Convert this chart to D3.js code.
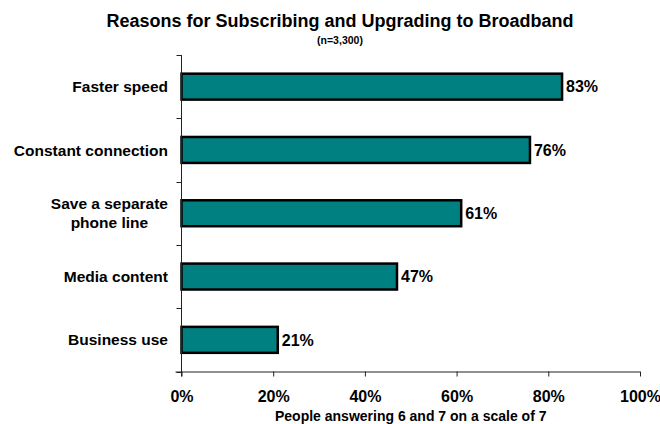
<!DOCTYPE html>
<html>
<head>
<meta charset="utf-8">
<script src="https://cdn.jsdelivr.net/npm/d3@7"></script>
<style>
  html, body { margin: 0; padding: 0; background: #fff; }
  svg { display: block; font-family: "Liberation Sans", Arial, sans-serif; font-weight: bold; }
</style>
</head>
<body>
<svg id="chart" width="660" height="424"></svg>
<script>
// Survey results: share of respondents rating each reason 6 or 7 (out of 7)
const categories = ["Faster speed", "Constant connection", "Save a separate\nphone line", "Media content", "Business use"];
const values = [83, 76, 61, 47, 21];
const tickValues = [0, 20, 40, 60, 80, 100];

const titleText = "Reasons for Subscribing and Upgrading to Broadband";
const subtitleText = "(n=3,300)";
const xAxisTitle = "People answering 6 and 7 on a scale of 7";

const svg = d3.select("#chart");
const plot = { left: 181.5, right: 640, top: 55, bottom: 371.5 };

const x = d3.scaleLinear().domain([0, 100]).range([plot.left, plot.right]);
const y = d3.scaleBand().domain(categories).range([plot.top, plot.bottom])
  .paddingInner(0.59).paddingOuter(0.295);

// Title block
svg.append("text").attr("x", 340).attr("y", 27).attr("text-anchor", "middle")
  .style("font-size", "18px").text(titleText);
svg.append("text").attr("x", 340).attr("y", 44).attr("text-anchor", "middle")
  .style("font-size", "10.5px").text(subtitleText);

// Bars
svg.append("g").selectAll("rect").data(categories).join("rect")
  .attr("x", x(0))
  .attr("y", d => y(d))
  .attr("width", (d, i) => x(values[i]) - x(0))
  .attr("height", y.bandwidth())
  .attr("fill", "#008080")
  .attr("stroke", "#000")
  .attr("stroke-width", 2.5);

// Value labels at bar ends
svg.append("g").selectAll("text").data(categories).join("text")
  .attr("x", (d, i) => x(values[i]) + 4)
  .attr("y", d => y(d) + y.bandwidth() / 2)
  .attr("dy", "0.36em")
  .style("font-size", "16px")
  .text((d, i) => values[i] + "%");

// Y axis: line with ticks between categories
const yAxis = svg.append("g");
yAxis.append("line")
  .attr("x1", plot.left).attr("x2", plot.left)
  .attr("y1", plot.top).attr("y2", plot.bottom + 5)
  .attr("stroke", "#222").attr("stroke-width", 1);
const step = y.step();
const yTicks = d3.range(categories.length + 1).map(i => plot.top + i * step);
yAxis.selectAll("line.tick").data(yTicks).join("line").attr("class", "tick")
  .attr("x1", plot.left - 5).attr("x2", plot.left)
  .attr("y1", d => Math.round(d) + 0.5).attr("y2", d => Math.round(d) + 0.5)
  .attr("stroke", "#222").attr("stroke-width", 1);

// Category labels (multi-line labels are centred as a block, right aligned to the axis)
const labelRight = 168;
const lineH = 19;
const catG = svg.append("g");
categories.forEach((c, i) => {
  const lines = c.split("\n");
  const cy = y(c) + y.bandwidth() / 2;
  const t = catG.append("text").style("font-size", "15.5px");
  lines.forEach((ln, j) => {
    t.append("tspan").attr("y", cy + (j - (lines.length - 1) / 2) * lineH).attr("dy", "0.36em").text(ln);
  });
  if (lines.length === 1) {
    t.attr("text-anchor", "end").selectAll("tspan").attr("x", labelRight);
  } else {
    let maxW = 0;
    t.selectAll("tspan").each(function () { maxW = Math.max(maxW, this.getComputedTextLength()); });
    t.attr("text-anchor", "middle").selectAll("tspan").attr("x", labelRight - maxW / 2);
  }
});

// X axis
const xAxis = d3.axisBottom(x).tickValues(tickValues).tickFormat(d => d + "%")
  .tickSizeInner(5).tickSizeOuter(0).tickPadding(14);
const gx = svg.append("g").attr("transform", `translate(0,${plot.bottom})`).call(xAxis);
gx.select(".domain").attr("stroke", "#222").attr("d", `M${plot.left - 6},0.5H${plot.right}`);
gx.selectAll(".tick line").attr("stroke", "#222");
gx.selectAll(".tick text").attr("fill", "#000")
  .style("font-size", "16px").style("font-family", "Liberation Sans, Arial, sans-serif").style("font-weight", "bold");

svg.append("text").attr("x", x(50)).attr("y", 421).attr("text-anchor", "middle")
  .style("font-size", "14px").text(xAxisTitle);
</script>
</body>
</html>
